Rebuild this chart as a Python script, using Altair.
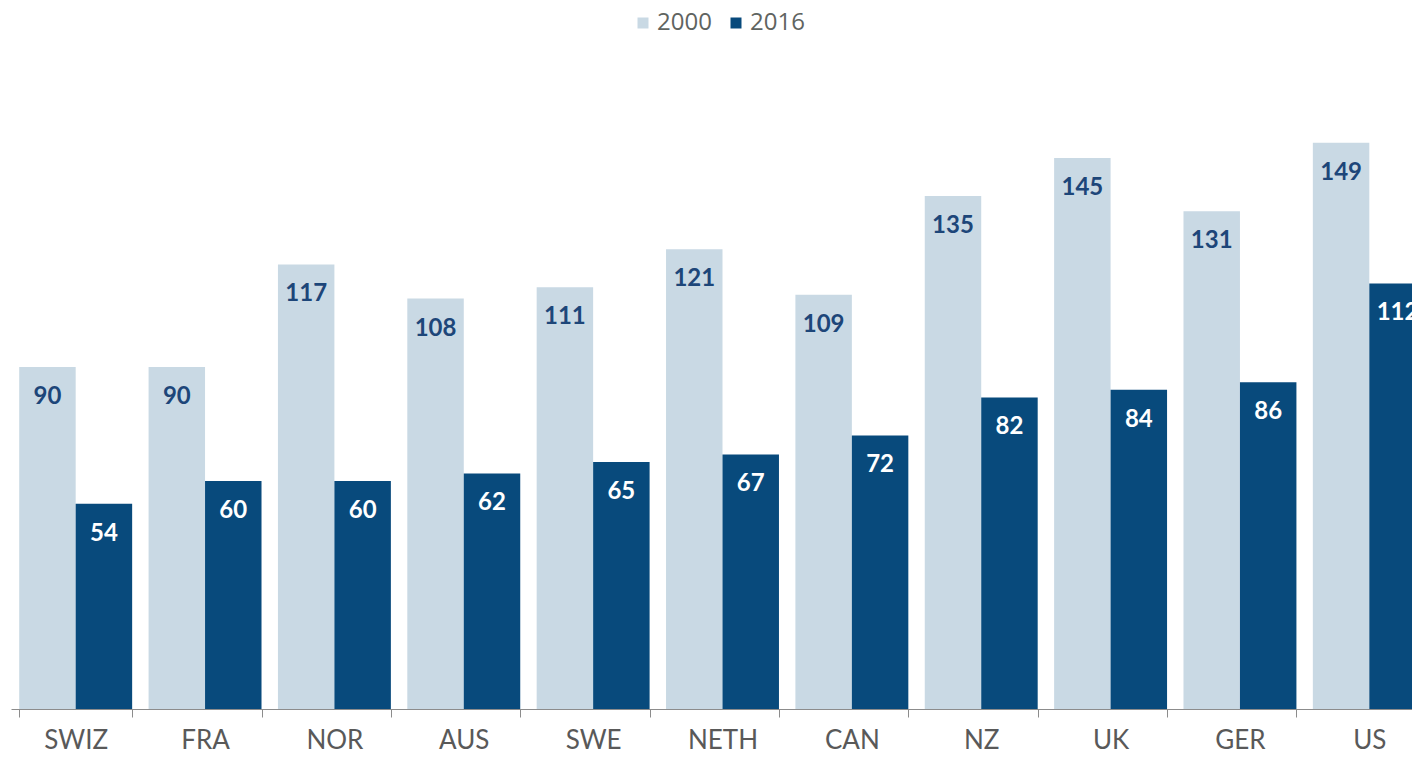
import altair as alt
import pandas as pd

countries = ["SWIZ", "FRA", "NOR", "AUS", "SWE", "NETH", "CAN", "NZ", "UK", "GER", "US"]
years = ["2000", "2016"]
values_2000 = [90, 90, 117, 108, 111, 121, 109, 135, 145, 131, 149]
values_2016 = [54, 60, 60, 62, 65, 67, 72, 82, 84, 86, 112]

rows = []
for c, a, b in zip(countries, values_2000, values_2016):
    rows.append({"country": c, "year": "2000", "value": a})
    rows.append({"country": c, "year": "2016", "value": b})
df = pd.DataFrame(rows)

LIGHT = "#c9d9e4"
DARK = "#084a7c"
TEXT_DARK = "#1d4679"

base = alt.Chart(df).encode(
    x=alt.X(
        "country:N",
        sort=countries,
        title=None,
        scale=alt.Scale(paddingInner=0.127, paddingOuter=0.0635),
        axis=alt.Axis(
            tickBand="extent",
            domainColor="#8c8c8c",
            tickColor="#8c8c8c",
            tickSize=8,
            labelFont="Lato",
            labelFontSize=26,
            labelColor="#595959",
            labelPadding=10,
            labelAngle=0,
            grid=False,
        ),
    ),
    xOffset=alt.XOffset("year:N", sort=years),
    y=alt.Y("value:Q", scale=alt.Scale(domain=[0, 160], nice=False), axis=None),
)

bars = base.mark_bar().encode(
    color=alt.Color(
        "year:N",
        sort=years,
        scale=alt.Scale(domain=years, range=[LIGHT, DARK]),
        legend=alt.Legend(
            title=None,
            orient="none",
            legendX=620,
            legendY=-90,
            direction="horizontal",
            symbolType="square",
            symbolSize=121,
            symbolStrokeWidth=0,
            labelFont="Open Sans",
            labelFontSize=24,
            labelColor="#5f6461",
            labelOffset=2,
            columnPadding=12,
            padding=0,
        ),
    )
)

labels = base.mark_text(dy=30, font="Lato", fontSize=24, fontWeight="bold").encode(
    text=alt.Text("value:Q"),
    color=alt.Color(
        "year:N",
        sort=years,
        scale=alt.Scale(domain=years, range=[TEXT_DARK, "#ffffff"]),
        legend=None,
    ),
)

chart = (
    alt.layer(bars, labels)
    .resolve_scale(color="independent")
    .properties(
        width=1423,
        height=608,
        autosize=alt.AutoSizeParams(type="none"),
        padding={"left": 3, "right": -22, "top": 93, "bottom": 41},
    )
    .configure_view(stroke=None)
)

chart.save("out.html", embed_options={"renderer": "svg", "actions": False})
